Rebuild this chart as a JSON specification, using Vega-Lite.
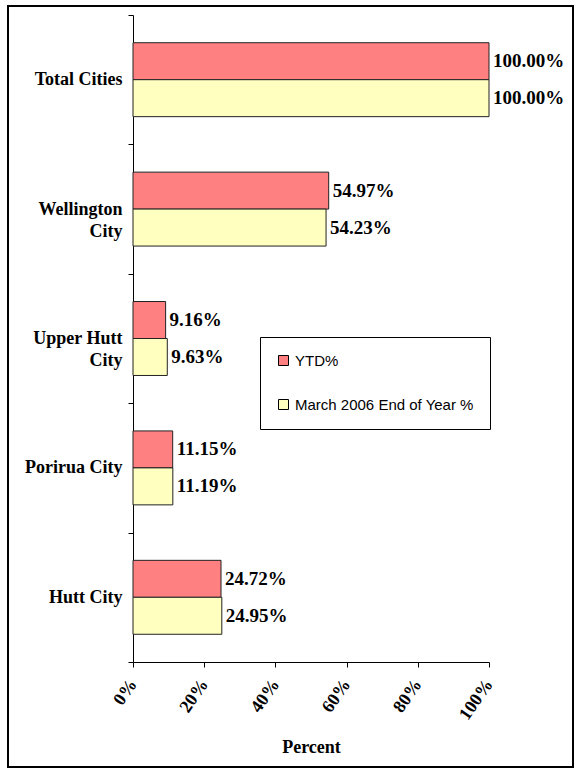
{
  "$schema": "https://vega.github.io/schema/vega-lite/v6.json",
  "autosize": "none",
  "padding": {"left": 8, "top": 6, "right": 8, "bottom": 6},
  "width": 565,
  "height": 761,
  "background": "white",
  "config": {
    "view": {"stroke": "black", "strokeWidth": 2},
    "axis": {"domainColor": "black", "tickColor": "black", "labelColor": "black", "titleColor": "black", "grid": false}
  },
  "data": {
    "values": [
      {"city": "Total Cities", "series": "YTD%", "value": 1.0},
      {"city": "Total Cities", "series": "March 2006 End of Year %", "value": 1.0},
      {"city": "Wellington City", "series": "YTD%", "value": 0.5497},
      {"city": "Wellington City", "series": "March 2006 End of Year %", "value": 0.5423},
      {"city": "Upper Hutt City", "series": "YTD%", "value": 0.0916},
      {"city": "Upper Hutt City", "series": "March 2006 End of Year %", "value": 0.0963},
      {"city": "Porirua City", "series": "YTD%", "value": 0.1115},
      {"city": "Porirua City", "series": "March 2006 End of Year %", "value": 0.1119},
      {"city": "Hutt City", "series": "YTD%", "value": 0.2472},
      {"city": "Hutt City", "series": "March 2006 End of Year %", "value": 0.2495}
    ]
  },
  "encoding": {
    "y": {
      "field": "city",
      "type": "nominal",
      "sort": ["Total Cities", "Wellington City", "Upper Hutt City", "Porirua City", "Hutt City"],
      "scale": {"range": [9, 656], "paddingInner": 0, "paddingOuter": 0},
      "axis": {
        "title": null,
        "offset": -125,
        "tickBand": "extent",
        "tickSize": 5,
        "labelPadding": 6,
        "labelFont": "Liberation Serif",
        "labelFontWeight": "bold",
        "labelFontSize": 18,
        "labelLimit": 200,
        "labelLineHeight": 22,
        "labelExpr": "datum.value == 'Wellington City' ? ['Wellington', 'City'] : datum.value == 'Upper Hutt City' ? ['Upper Hutt', 'City'] : datum.value"
      }
    },
    "yOffset": {
      "field": "series",
      "type": "nominal",
      "sort": ["YTD%", "March 2006 End of Year %"],
      "scale": {"paddingInner": 0, "paddingOuter": 0.75}
    },
    "x": {
      "field": "value",
      "type": "quantitative",
      "scale": {"domain": [0, 1], "range": [125, 481], "nice": false, "zero": true},
      "axis": {
        "title": "Percent",
        "offset": -105,
        "values": [0, 0.2, 0.4, 0.6, 0.8, 1],
        "format": "%",
        "labelAngle": -55,
        "labelFont": "Liberation Serif",
        "labelFontWeight": "bold",
        "labelFontSize": 18,
        "labelPadding": 14,
        "tickSize": 5,
        "titleFont": "Liberation Serif",
        "titleFontWeight": "bold",
        "titleFontSize": 18,
        "titleY": 85,
        "titleBaseline": "middle"
      }
    }
  },
  "layer": [
    {
      "mark": {"type": "bar", "stroke": "#222222", "strokeWidth": 1},
      "encoding": {
        "color": {
          "field": "series",
          "type": "nominal",
          "sort": ["YTD%", "March 2006 End of Year %"],
          "scale": {"domain": ["YTD%", "March 2006 End of Year %"], "range": ["#FF8080", "#FFFFC0"]},
          "legend": {
            "title": null,
            "orient": "none",
            "legendX": 252,
            "legendY": 331,
            "direction": "vertical",
            "padding": 16,
            "rowPadding": 28,
            "strokeColor": "black",
            "fillColor": "white",
            "symbolType": "square",
            "symbolSize": 100,
            "symbolStrokeColor": "black",
            "symbolStrokeWidth": 1,
            "labelFont": "Liberation Sans",
            "labelFontSize": 15,
            "labelColor": "black",
            "labelLimit": 300,
            "labelOffset": 4
          }
        }
      }
    },
    {
      "mark": {"type": "text", "align": "left", "baseline": "middle", "dx": 4, "font": "Liberation Serif", "fontWeight": "bold", "fontSize": 19, "color": "black"},
      "encoding": {
        "text": {"field": "value", "type": "quantitative", "format": ".2%"}
      }
    }
  ]
}
